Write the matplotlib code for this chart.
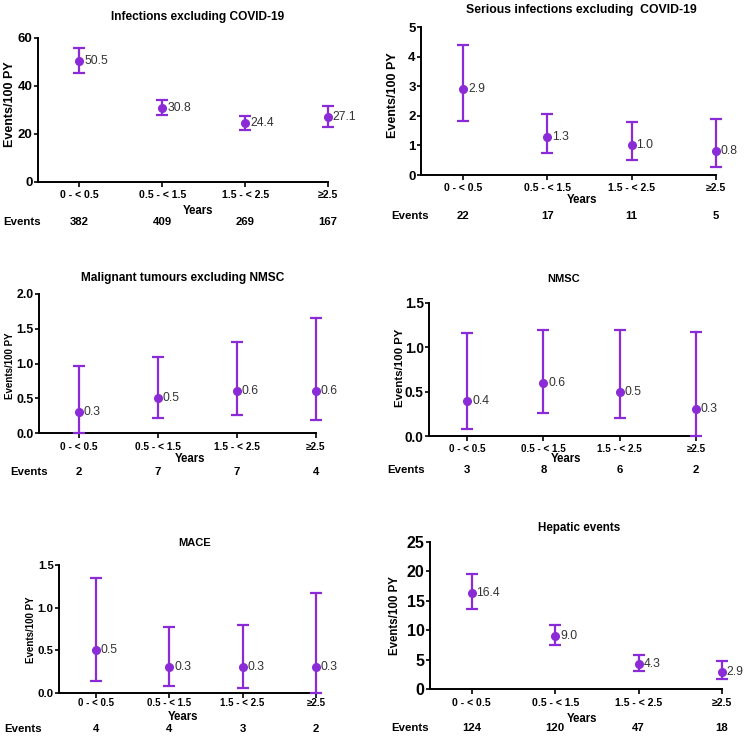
import matplotlib
matplotlib.use("Agg")
import matplotlib.pyplot as plt
from matplotlib.transforms import blended_transform_factory

plt.rcParams['font.family'] = ['Liberation Sans', 'DejaVu Sans']

W, H = 746, 736
PURPLE = '#8B2BD8'

categories = ['0 - < 0.5', '0.5 - < 1.5', '1.5 - < 2.5', '\u22652.5']

# Infections excluding COVID-19
inf_rate = [50.5, 30.8, 24.4, 27.1]
inf_low = [45.5, 28.0, 21.5, 23.0]
inf_high = [56.0, 34.0, 27.5, 31.5]
inf_events = [382, 409, 269, 167]

# Serious infections excluding COVID-19
sinf_rate = [2.9, 1.3, 1.0, 0.8]
sinf_low = [1.82, 0.75, 0.5, 0.27]
sinf_high = [4.4, 2.05, 1.8, 1.9]
sinf_events = [22, 17, 11, 5]

# Malignant tumours excluding NMSC
mal_rate = [0.3, 0.5, 0.6, 0.6]
mal_low = [0.0, 0.21, 0.26, 0.18]
mal_high = [0.96, 1.09, 1.31, 1.66]
mal_events = [2, 7, 7, 4]

# NMSC
nmsc_rate = [0.4, 0.6, 0.5, 0.3]
nmsc_low = [0.08, 0.26, 0.2, 0.0]
nmsc_high = [1.16, 1.19, 1.19, 1.17]
nmsc_events = [3, 8, 6, 2]

# MACE
mace_rate = [0.5, 0.3, 0.3, 0.3]
mace_low = [0.14, 0.08, 0.06, 0.0]
mace_high = [1.35, 0.77, 0.8, 1.17]
mace_events = [4, 4, 3, 2]

# Hepatic events
hep_rate = [16.4, 9.0, 4.3, 2.9]
hep_low = [13.6, 7.5, 3.1, 1.7]
hep_high = [19.6, 10.9, 5.8, 4.7]
hep_events = [124, 120, 47, 18]

# layout in pixels: axes box (left, top, right, bottom), title, years label, events row, ylabel
# plus a few font sizes, since each panel in the original was exported at its own scale
panels = [
    dict(title='Infections excluding COVID-19', rate=inf_rate, low=inf_low, high=inf_high,
         events=inf_events, ymax=60, ystep=20, fmt='{:.0f}',
         box=(38, 38, 328, 182), title_xy=(198, 17), years_xy=(198, 211),
         events_y=222, events_x=3, ylab_xy=(10, 104),
         fs_title=8.6, fs_ytick=9.5, fs_xtick=7.6, fs_ylab=9, xpad=2.5),
    dict(title='Serious infections excluding  COVID-19', rate=sinf_rate, low=sinf_low, high=sinf_high,
         events=sinf_events, ymax=5, ystep=1, fmt='{:.0f}',
         box=(421, 27, 716, 175), title_xy=(581, 10), years_xy=(582, 200),
         events_y=216, events_x=391, ylab_xy=(393, 95),
         fs_title=8.8, fs_ytick=9.5, fs_xtick=7.5, fs_ylab=9, xpad=2.5),
    dict(title='Malignant tumours excluding NMSC', rate=mal_rate, low=mal_low, high=mal_high,
         events=mal_events, ymax=2.0, ystep=0.5, fmt='{:.1f}',
         box=(39, 294, 316, 433), title_xy=(183, 278), years_xy=(190, 459),
         events_y=472, events_x=10, ylab_xy=(10, 366),
         fs_title=8.6, fs_ytick=8.8, fs_xtick=7.3, fs_ylab=7, xpad=3),
    dict(title='NMSC', rate=nmsc_rate, low=nmsc_low, high=nmsc_high,
         events=nmsc_events, ymax=1.5, ystep=0.5, fmt='{:.1f}',
         box=(429, 303, 696, 436), title_xy=(564, 279), years_xy=(566, 459),
         events_y=470, events_x=387, ylab_xy=(400, 368),
         fs_title=8, fs_ytick=9.8, fs_xtick=7.1, fs_ylab=8.2, xpad=2),
    dict(title='MACE', rate=mace_rate, low=mace_low, high=mace_high,
         events=mace_events, ymax=1.5, ystep=0.5, fmt='{:.1f}',
         box=(59, 565, 316, 693), title_xy=(195, 543), years_xy=(183, 717),
         events_y=729, events_x=4, ylab_xy=(31, 630),
         fs_title=8, fs_ytick=8.2, fs_xtick=7, fs_ylab=7, xpad=0),
    dict(title='Hepatic events', rate=hep_rate, low=hep_low, high=hep_high,
         events=hep_events, ymax=25, ystep=5, fmt='{:.0f}',
         box=(430, 542, 722, 689), title_xy=(579, 528), years_xy=(582, 719),
         events_y=728, events_x=391, ylab_xy=(395, 616),
         fs_title=8.4, fs_ytick=11.5, fs_xtick=7.6, fs_ylab=8.3, xpad=3),
]


def fx(px):
    return px / W


def fy(py):
    return 1 - py / H


fig = plt.figure(figsize=(W / 100, H / 100), dpi=100)

for p in panels:
    l, t, r, b = p['box']
    ax = fig.add_axes([fx(l), fy(b), fx(r) - fx(l), fy(t) - fy(b)])
    x = list(range(len(categories)))
    yerr = [[v - lo for v, lo in zip(p['rate'], p['low'])],
            [hi - v for v, hi in zip(p['rate'], p['high'])]]
    ax.errorbar(x, p['rate'], yerr=yerr, fmt='o', color=PURPLE, ms=5.5,
                elinewidth=1.6, capsize=4.5, capthick=1.6, clip_on=False, zorder=3)
    for xi, v in zip(x, p['rate']):
        ax.annotate(f'{v:.1f}', (xi, v), xytext=(3.5, 0), textcoords='offset points',
                    va='center', ha='left', fontsize=8.8, color='#333333')

    ax.set_xlim(-0.5, 3)
    ax.set_ylim(0, p['ymax'])
    n = int(round(p['ymax'] / p['ystep']))
    yt = [i * p['ystep'] for i in range(n + 1)]
    ax.set_yticks(yt)
    ax.set_yticklabels([p['fmt'].format(v) for v in yt], fontsize=p['fs_ytick'], fontweight='bold')
    ax.set_xticks(x)
    ax.set_xticklabels(categories, fontsize=p['fs_xtick'], fontweight='bold')
    ax.tick_params(axis='both', direction='out', length=3, width=1.2, pad=0.8)
    ax.tick_params(axis='x', length=3.5, pad=p['xpad'])
    for side in ['top', 'right']:
        ax.spines[side].set_visible(False)
    for side in ['left', 'bottom']:
        ax.spines[side].set_linewidth(1.4)

    fig.text(fx(p['title_xy'][0]), fy(p['title_xy'][1]), p['title'], ha='center', va='center',
             fontsize=p['fs_title'], fontweight='bold')
    fig.text(fx(p['years_xy'][0]), fy(p['years_xy'][1]), 'Years', ha='center', va='center',
             fontsize=8.3, fontweight='bold')
    fig.text(fx(p['ylab_xy'][0]), fy(p['ylab_xy'][1]), 'Events/100 PY', rotation=90, ha='center',
             va='center', fontsize=p['fs_ylab'], fontweight='bold')

    trans = blended_transform_factory(ax.transData, fig.transFigure)
    fig.text(fx(p['events_x']), fy(p['events_y']), 'Events', ha='left', va='center',
             fontsize=8.2, fontweight='bold')
    for xi, e in zip(x, p['events']):
        ax.text(xi, fy(p['events_y']), str(e), transform=trans, ha='center', va='center',
                fontsize=8.2, fontweight='bold')

fig.savefig('out.png', dpi=100, facecolor='white')
